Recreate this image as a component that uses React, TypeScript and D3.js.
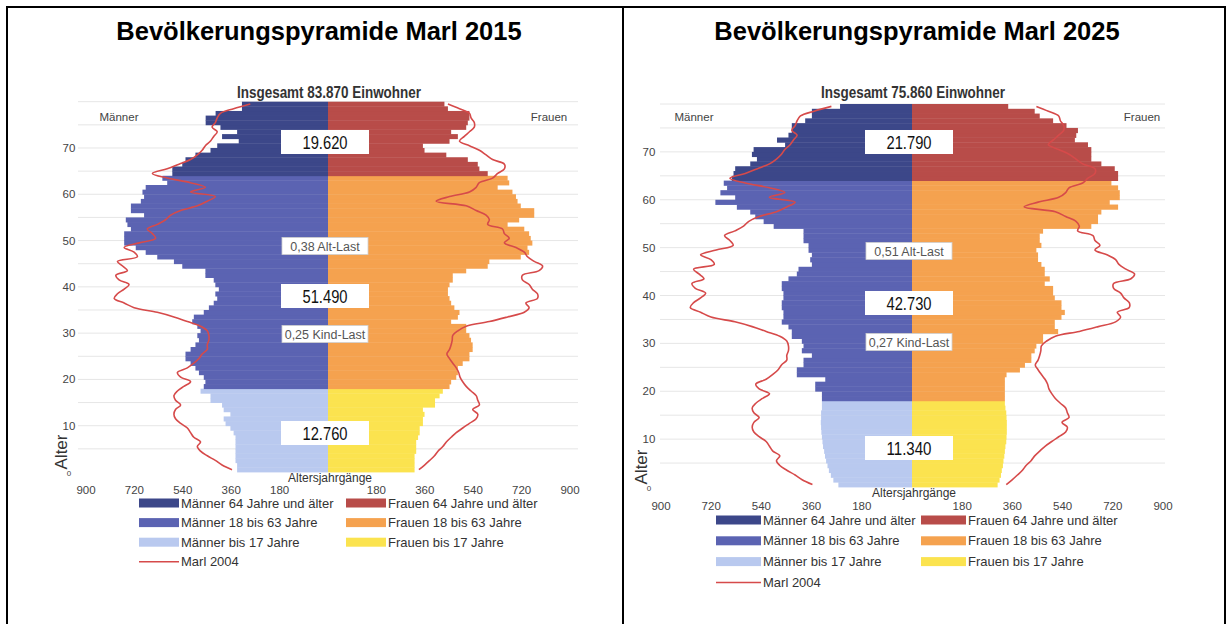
import React from "react";
import * as d3 from "d3";

// ---------- data (persons per age year 0..79) ----------
const AGES = d3.range(80);

const MALE_2015 = [
  338, 338, 344, 344, 344, 344, 344, 344, 351, 363, 381, 388, 363, 388, 394, 437, 437, 474,
  462, 456, 462, 480, 493, 511, 530, 530, 511, 493, 480, 486, 474, 486, 505, 499, 462, 443,
  425, 412, 419, 406, 419, 425, 456, 456, 542, 573, 635, 678, 715, 758, 758, 758, 733, 746,
  752, 684, 733, 733, 696, 684, 690, 678, 598, 616,
  579, 579, 542, 530, 493, 437, 412, 332, 394, 338, 400, 455, 455, 418, 320, 320,
];
const FEMALE_2015 = [
  322, 322, 322, 322, 328, 328, 328, 335, 341, 341, 353, 353, 359, 353, 398, 398, 415, 427,
  452, 458, 477, 483, 483, 501, 526, 526, 538, 538, 532, 526, 514, 514, 458, 483, 489, 470,
  458, 452, 446, 446, 452, 464, 464, 514, 594, 600, 717, 748, 742, 760, 754, 748, 730, 668,
  711, 767, 767, 717, 705, 699, 686, 631, 674, 668,
  594, 563, 557, 520, 440, 359, 353, 452, 483, 458, 514, 520, 526, 526, 446, 433,
];
const MALE_2025 = [
  264, 282, 291, 298, 303, 308, 312, 315, 319, 321, 323, 325, 326, 327, 326, 326, 323, 323,
  323, 323, 347, 347, 311, 413, 413, 389, 389, 359, 395, 389, 395, 431, 431, 443, 467, 461,
  461, 467, 467, 461, 461, 467, 467, 443, 413, 407, 359, 365, 359, 371, 371, 389, 389, 389,
  496, 532, 562, 580, 628, 705, 634, 687, 663, 675,
  646, 640, 634, 580, 556, 574, 568, 455, 484, 443, 431, 431, 383, 359, 359, 258,
];
const FEMALE_2025 = [
  307, 314, 319, 322, 326, 328, 331, 333, 335, 338, 339, 340, 340, 340, 339, 338, 335, 333,
  333, 333, 333, 333, 333, 339, 387, 405, 428, 428, 440, 446, 470, 470, 524, 512, 512, 536,
  548, 536, 536, 512, 506, 506, 476, 494, 476, 476, 464, 452, 452, 446, 464, 458, 458, 470,
  643, 667, 667, 679, 739, 709, 745, 745, 739, 715,
  739, 739, 727, 679, 643, 643, 643, 631, 584, 589, 595, 554, 506, 458, 440, 345,
];
// Marl 2004 reference line
const MALE_2004 = [
  357, 394, 419, 449, 474, 486, 474, 499, 511, 523, 548, 567, 573, 567, 548, 567, 573, 560,
  536, 511, 548, 560, 523, 499, 480, 468, 449, 449, 443, 443, 449, 474, 523, 573, 635, 721,
  758, 795, 783, 758, 740, 777, 789, 746, 764, 783, 709, 721, 758, 702, 641, 653, 672, 635,
  604, 585, 548, 486, 449, 419, 511, 456, 511, 598, 653, 598, 554, 511, 486, 468, 456, 437,
  425, 412, 431, 419, 412, 400, 351, 289,
];
const FEMALE_2004 = [
  338, 359, 378, 396, 409, 427, 440, 458, 477, 501, 526, 551, 557, 538, 563, 557, 551, 532,
  514, 501, 491, 486, 477, 464, 452, 442, 452, 458, 462, 464, 483, 514, 600, 668, 730, 748,
  736, 779, 779, 760, 748, 723, 723, 785, 798, 767, 742, 730, 699, 656, 674, 656, 649, 594,
  600, 588, 551, 514, 402, 452, 526, 551, 563, 612, 631, 656, 656, 612, 588, 563, 526, 489,
  507, 526, 544, 544, 532, 526, 489, 446,
];

const X_TICKS = [900, 720, 540, 360, 180];
const Y_TICKS = [0, 10, 20, 30, 40, 50, 60, 70];
const GRID_AGES = d3.range(5, 85, 5);

const LEGEND_LEFT = ["Männer 64 Jahre und älter", "Männer 18 bis 63 Jahre", "Männer bis 17 Jahre"];
const LEGEND_RIGHT = ["Frauen 64 Jahre und älter", "Frauen 18 bis 63 Jahre", "Frauen bis 17 Jahre"];
const LEGEND_LINE = "Marl 2004";

const PANELS = [
  {
    title: "Bevölkerungspyramide Marl 2015",
    total: "Insgesamt 83.870 Einwohner",
    old: "19.620", altLast: "0,38 Alt-Last", mid: "51.490", kindLast: "0,25 Kind-Last", young: "12.760",
    male: MALE_2015, female: FEMALE_2015,
  },
  {
    title: "Bevölkerungspyramide Marl 2025",
    total: "Insgesamt 75.860 Einwohner",
    old: "21.790", altLast: "0,51 Alt-Last", mid: "42.730", kindLast: "0,27 Kind-Last", young: "11.340",
    male: MALE_2025, female: FEMALE_2025,
  },
];

// ---------- layout / style ----------
const LAYOUTS = [
  { cellMid: 319, cx: 328, half: 242, yBot: 472, yTop: 101.7, gx0: 78, gx1: 578,
    boxY: [142, 246, 296, 334, 433], tickY: 494, legY: 503, legGap: 19.6, legX1: 139, legX2: 346, legW: 40, ytx: 69 },
  { cellMid: 917, cx: 912, half: 251, yBot: 487, yTop: 104, gx0: 660, gx1: 1165,
    boxY: [142, 251, 303, 342, 448], tickY: 510, legY: 520, legGap: 20.8, legX1: 716, legX2: 921, legW: 45, ytx: 649 },
];

const MALE_COL = ["#3c4789", "#5b63b2", "#b9c9ef"];
const FEMALE_COL = ["#b84c49", "#f5a24f", "#fbe34f"];
const LINE_COL = "#d64a4a";
const FONT = "'Liberation Sans', Arial, sans-serif";

const band = (a: number) => (a >= 64 ? 0 : a >= 18 ? 1 : 2);

function Panel({ p, L }: any) {
  const y = d3.scaleLinear().domain([0, 80]).range([L.yBot, L.yTop]);
  const xm = d3.scaleLinear().domain([0, 900]).range([L.cx, L.cx - L.half]);
  const xf = d3.scaleLinear().domain([0, 900]).range([L.cx, L.cx + L.half]);
  const lineM = d3.line<number>().x((v) => xm(v)).y((_, i) => y(i + 0.5)).curve(d3.curveCatmullRom);
  const lineF = d3.line<number>().x((v) => xf(v)).y((_, i) => y(i + 0.5)).curve(d3.curveCatmullRom);
  const bx = L.cx - 3;
  const numBox = (txt: string, cy: number) => (
    <g>
      <rect x={bx - 44} y={cy - 12} width={88} height={24} fill="#fff" />
      <text x={bx} y={cy + 6.5} textAnchor="middle" fontSize={18} fill="#111"
        textLength={45} lengthAdjust="spacingAndGlyphs">{txt}</text>
    </g>
  );
  const lblBox = (txt: string, cy: number) => (
    <g>
      <rect x={bx - 43} y={cy - 8.5} width={86} height={17} fill="#fff" stroke="#cfcfcf" strokeWidth={0.8} />
      <text x={bx} y={cy + 4.5} textAnchor="middle" fontSize={12.5} fill="#555">{txt}</text>
    </g>
  );
  const lw = L.legW;
  return (
    <g fontFamily={FONT}>
      <text x={L.cellMid} y={40} textAnchor="middle" fontSize={25.5} fontWeight="bold" fill="#000">{p.title}</text>
      <text x={L.cx + 1} y={98} textAnchor="middle" fontSize={17} fontWeight="bold" fill="#333"
        textLength={184} lengthAdjust="spacingAndGlyphs">{p.total}</text>
      {GRID_AGES.map((a) => (
        <line key={a} x1={L.gx0} x2={L.gx1} y1={y(a)} y2={y(a)} stroke="#e6e6e6" strokeWidth={1} />
      ))}
      {AGES.map((a) => (
        <rect key={"m" + a} x={xm(p.male[a])} y={y(a + 1)} width={L.cx - xm(p.male[a])}
          height={y(a) - y(a + 1) + 0.4} fill={MALE_COL[band(a)]} />
      ))}
      {AGES.map((a) => (
        <rect key={"f" + a} x={L.cx} y={y(a + 1)} width={xf(p.female[a]) - L.cx}
          height={y(a) - y(a + 1) + 0.4} fill={FEMALE_COL[band(a)]} />
      ))}
      <path d={lineM(MALE_2004) || ""} fill="none" stroke={LINE_COL} strokeWidth={1.6} />
      <path d={lineF(FEMALE_2004) || ""} fill="none" stroke={LINE_COL} strokeWidth={1.6} />
      {numBox(p.old, L.boxY[0])}
      {lblBox(p.altLast, L.boxY[1])}
      {numBox(p.mid, L.boxY[2])}
      {lblBox(p.kindLast, L.boxY[3])}
      {numBox(p.young, L.boxY[4])}
      <text x={L.cx - L.half + 33} y={121} textAnchor="middle" fontSize={11.5} fill="#444">Männer</text>
      <text x={L.cx + L.half - 21} y={121} textAnchor="middle" fontSize={11.5} fill="#444">Frauen</text>
      {Y_TICKS.map((a) => (
        <text key={a} x={L.ytx} y={y(a) + 4} textAnchor="middle" fontSize={a === 0 ? 8 : 11.5} fill="#444">{a}</text>
      ))}
      <text transform={`translate(${L.ytx - 2},${L.yBot - 20}) rotate(-90)`} textAnchor="middle" fontSize={17} fill="#333">Alter</text>
      <text x={L.cx + 2} y={L.yBot + 10} textAnchor="middle" fontSize={12} fill="#333">Altersjahrgänge</text>
      {X_TICKS.map((v) => (
        <g key={v}>
          <text x={xm(v)} y={L.tickY} textAnchor="middle" fontSize={11.5} fill="#444">{v}</text>
          <text x={xf(v)} y={L.tickY} textAnchor="middle" fontSize={11.5} fill="#444">{v}</text>
        </g>
      ))}
      {LEGEND_LEFT.map((t, i) => (
        <g key={t}>
          <rect x={L.legX1} y={L.legY + i * L.legGap - 4.5} width={lw} height={9} fill={MALE_COL[i]} />
          <text x={L.legX1 + lw + 2} y={L.legY + i * L.legGap + 4.5} fontSize={13} fill="#333">{t}</text>
        </g>
      ))}
      {LEGEND_RIGHT.map((t, i) => (
        <g key={t}>
          <rect x={L.legX2} y={L.legY + i * L.legGap - 4.5} width={lw} height={9} fill={FEMALE_COL[i]} />
          <text x={L.legX2 + lw + 2} y={L.legY + i * L.legGap + 4.5} fontSize={13} fill="#333">{t}</text>
        </g>
      ))}
      <line x1={L.legX1} x2={L.legX1 + lw} y1={L.legY + 3 * L.legGap} y2={L.legY + 3 * L.legGap} stroke={LINE_COL} strokeWidth={1.5} />
      <text x={L.legX1 + lw + 2} y={L.legY + 3 * L.legGap + 4.5} fontSize={13} fill="#333">{LEGEND_LINE}</text>
    </g>
  );
}

export default function App() {
  return (
    <svg width={1232} height={624} style={{ position: "absolute", left: 0, top: 0, background: "#fff" }}>
      <rect x={0} y={0} width={1232} height={624} fill="#fff" />
      {PANELS.map((p, i) => <Panel key={i} p={p} L={LAYOUTS[i]} />)}
      <line x1={7} x2={1226} y1={7} y2={7} stroke="#000" strokeWidth={2} />
      <line x1={7} x2={7} y1={6} y2={624} stroke="#000" strokeWidth={2} />
      <line x1={623} x2={623} y1={6} y2={624} stroke="#000" strokeWidth={2} />
      <line x1={1225} x2={1225} y1={6} y2={624} stroke="#000" strokeWidth={2} />
    </svg>
  );
}
